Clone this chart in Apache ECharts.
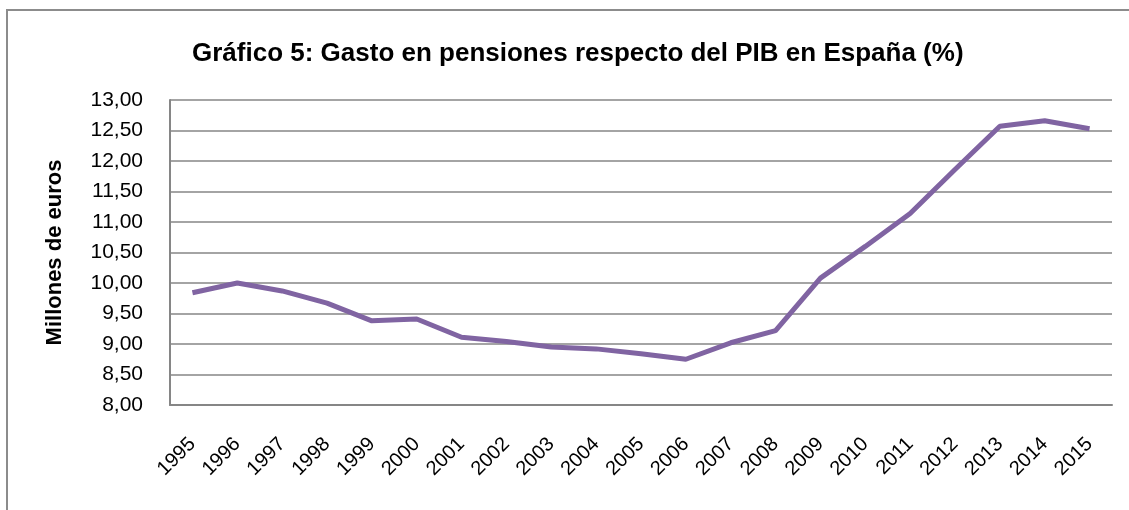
<!DOCTYPE html>
<html>
<head>
<meta charset="utf-8">
<style>
  html, body { margin: 0; padding: 0; background: #fff; }
  #chart { width: 1129px; height: 510px; }
</style>
<script src="https://cdn.jsdelivr.net/npm/echarts@6/dist/echarts.min.js"></script>
</head>
<body>
<div id="chart"></div>
<script>
// años
var years = ['1995', '1996', '1997', '1998', '1999', '2000', '2001', '2002', '2003', '2004',
  '2005', '2006', '2007', '2008', '2009', '2010', '2011', '2012', '2013', '2014', '2015'];
// gasto en pensiones (% PIB)
var gasto = [9.84, 10.00, 9.87, 9.67, 9.38, 9.41, 9.11, 9.04, 8.95, 8.92,
  8.84, 8.75, 9.02, 9.22, 10.08, 10.60, 11.14, 11.86, 12.57, 12.66, 12.53];

var font = '"Liberation Sans", Arial, sans-serif';

var chart = echarts.init(document.getElementById('chart'));
chart.setOption({
  animation: false,
  textStyle: { fontFamily: font },
  // marco exterior
  graphic: [{
    type: 'rect',
    shape: { x: 7, y: 10, width: 1140, height: 520 },
    style: { fill: 'none', stroke: '#8c8c8c', lineWidth: 2 },
    silent: true
  }],
  title: {
    text: 'Gráfico 5: Gasto en pensiones respecto del PIB en España (%)',
    left: 187,
    top: 36,
    textStyle: { fontFamily: font, fontSize: 26, fontWeight: 'bold', color: '#000' }
  },
  grid: { left: 170, right: 17, top: 100, bottom: 105 },
  xAxis: {
    type: 'category',
    data: years,
    boundaryGap: true,
    axisLine: { lineStyle: { color: '#868686', width: 2 } },
    axisTick: { show: false },
    axisLabel: { rotate: 45, margin: 36, fontSize: 20, color: '#000', fontFamily: font }
  },
  yAxis: {
    type: 'value',
    min: 8,
    max: 13,
    interval: 0.5,
    name: 'Millones de euros',
    nameLocation: 'middle',
    nameRotate: 90,
    nameGap: 104,
    nameTextStyle: { fontFamily: font, fontSize: 22, fontWeight: 'bold', color: '#000' },
    axisLine: { show: true, lineStyle: { color: '#868686', width: 2 } },
    axisTick: { show: false },
    axisLabel: {
      margin: 27,
      fontSize: 21,
      color: '#000',
      fontFamily: font,
      formatter: function (v) { return v.toFixed(2).replace('.', ','); }
    },
    splitLine: { lineStyle: { color: '#868686', width: 1.5 } }
  },
  series: [{
    type: 'line',
    data: gasto,
    symbol: 'none',
    lineStyle: { color: '#8064A2', width: 5 },
    itemStyle: { color: '#8064A2' }
  }]
});
</script>
</body>
</html>
